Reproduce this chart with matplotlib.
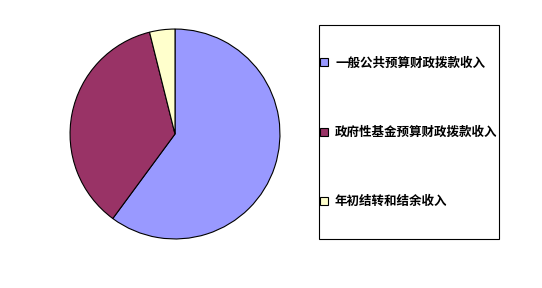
import matplotlib
matplotlib.use("Agg")
import matplotlib.pyplot as plt
from matplotlib.patches import Rectangle

plt.rcParams['font.family'] = ['Noto Sans CJK SC', 'DejaVu Sans']

categories = ['一般公共预算财政拨款收入', '政府性基金预算财政拨款收入', '年初结转和结余收入']
values = [60.1, 36.0, 3.9]
colors = ['#9999FF', '#993366', '#FFFFCC']

W, H = 542, 288
fig = plt.figure(figsize=(W/100, H/100), dpi=100)
fig.patch.set_facecolor('white')
ax = fig.add_axes([69/W, 1-240/H, 212/W, 212/H])
wedges, _ = ax.pie(values, colors=colors, startangle=90, counterclock=False,
                   radius=1, wedgeprops=dict(edgecolor='black', linewidth=0.8))
ax.set_xlim(-1.01, 1.01)
ax.set_ylim(-1.01, 1.01)
ax.set_aspect('equal')
ax.axis('off')

# legend frame
fig.patches.append(Rectangle((319/W, 1-239/H), 180/W, 214/H, transform=fig.transFigure,
                             facecolor='white', edgecolor='black', linewidth=0.8, zorder=0))

leg = fig.legend(wedges, categories, loc='center left',
                 bbox_to_anchor=(320/W, 1-132.5/H),
                 prop=dict(size=9, weight='bold'),
                 frameon=False,
                 handlelength=0.6, handleheight=0.6, handletextpad=0.6,
                 labelspacing=4.5, borderpad=0, borderaxespad=0)
for h in leg.legend_handles:
    h.set_edgecolor('black')
    h.set_linewidth(0.8)

fig.savefig('out.png', dpi=100, facecolor='white')
